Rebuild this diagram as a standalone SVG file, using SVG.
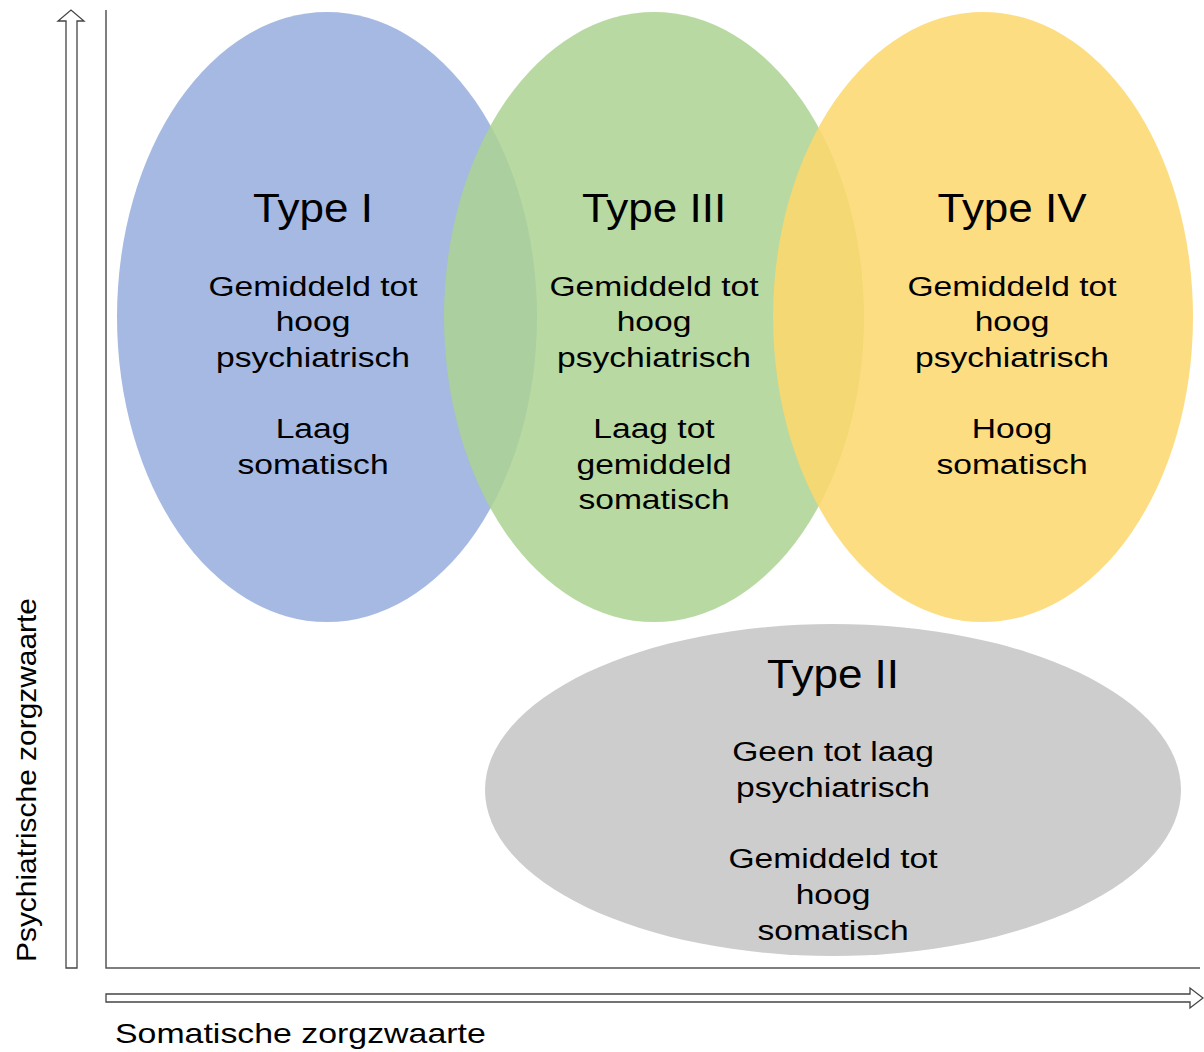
<svg xmlns="http://www.w3.org/2000/svg" width="1204" height="1052" viewBox="0 0 1204 1052">
<style>
text{font-family:"Liberation Sans",Arial,sans-serif;fill:#000;text-anchor:middle}
.t{font-size:40px}
.b{font-size:28px}
.ax{font-size:28px;text-anchor:start}
.arr{fill:#fff;stroke:#444;stroke-width:1.3}
.axis{stroke:#555;stroke-width:1.5;fill:none}
.el{fill-opacity:0.85}
</style>
<rect width="1204" height="1052" fill="#fff"/>
<g id="axes">
<path class="axis" d="M106,10 V968 H1200"/>
<path class="arr" d="M66,968 V21 H58 L71,10 L84,21 H77 V968 Z"/>
<path class="arr" d="M106,994 H1190 V988 L1203,998 L1190,1008 V1002 H106 Z"/>
<text class="ax" transform="translate(115,1043) scale(1.21,1)">Somatische zorgzwaarte</text>
<text class="ax" transform="translate(36,962) rotate(-90)" textLength="364" lengthAdjust="spacingAndGlyphs">Psychiatrische zorgzwaarte</text>
</g>
<g id="typeI">
<ellipse class="el" cx="327" cy="317" rx="210" ry="305" fill="#95addd"/>
</g>
<g id="typeIII">
<ellipse class="el" cx="654" cy="317" rx="210" ry="305" fill="#abd292"/>
</g>
<g id="typeIV">
<ellipse class="el" cx="983" cy="317" rx="210" ry="305" fill="#fdd76c"/>
</g>
<g id="typeII">
<ellipse cx="833" cy="790" rx="348" ry="166" fill="#cdcdcd"/>
</g>
<g id="labels">
<g transform="translate(313,0)">
<text class="t" transform="translate(0,222) scale(1.1,1)">Type I</text>
<g transform="scale(1.2,1)">
<text class="b" x="0" y="296">Gemiddeld tot</text>
<text class="b" x="0" y="331">hoog</text>
<text class="b" x="0" y="367">psychiatrisch</text>
<text class="b" x="0" y="438">Laag</text>
<text class="b" x="0" y="474">somatisch</text>
</g>
</g>
<g transform="translate(654,0)">
<text class="t" transform="translate(0,222) scale(1.1,1)">Type III</text>
<g transform="scale(1.2,1)">
<text class="b" x="0" y="296">Gemiddeld tot</text>
<text class="b" x="0" y="331">hoog</text>
<text class="b" x="0" y="367">psychiatrisch</text>
<text class="b" x="0" y="438">Laag tot</text>
<text class="b" x="0" y="474">gemiddeld</text>
<text class="b" x="0" y="509">somatisch</text>
</g>
</g>
<g transform="translate(1012,0)">
<text class="t" transform="translate(0,222) scale(1.1,1)">Type IV</text>
<g transform="scale(1.2,1)">
<text class="b" x="0" y="296">Gemiddeld tot</text>
<text class="b" x="0" y="331">hoog</text>
<text class="b" x="0" y="367">psychiatrisch</text>
<text class="b" x="0" y="438">Hoog</text>
<text class="b" x="0" y="474">somatisch</text>
</g>
</g>
<g transform="translate(833,0)">
<text class="t" transform="translate(0,688) scale(1.1,1)">Type II</text>
<g transform="scale(1.2,1)">
<text class="b" x="0" y="761">Geen tot laag</text>
<text class="b" x="0" y="797">psychiatrisch</text>
<text class="b" x="0" y="868">Gemiddeld tot</text>
<text class="b" x="0" y="904">hoog</text>
<text class="b" x="0" y="940">somatisch</text>
</g>
</g>
</g>
</svg>
